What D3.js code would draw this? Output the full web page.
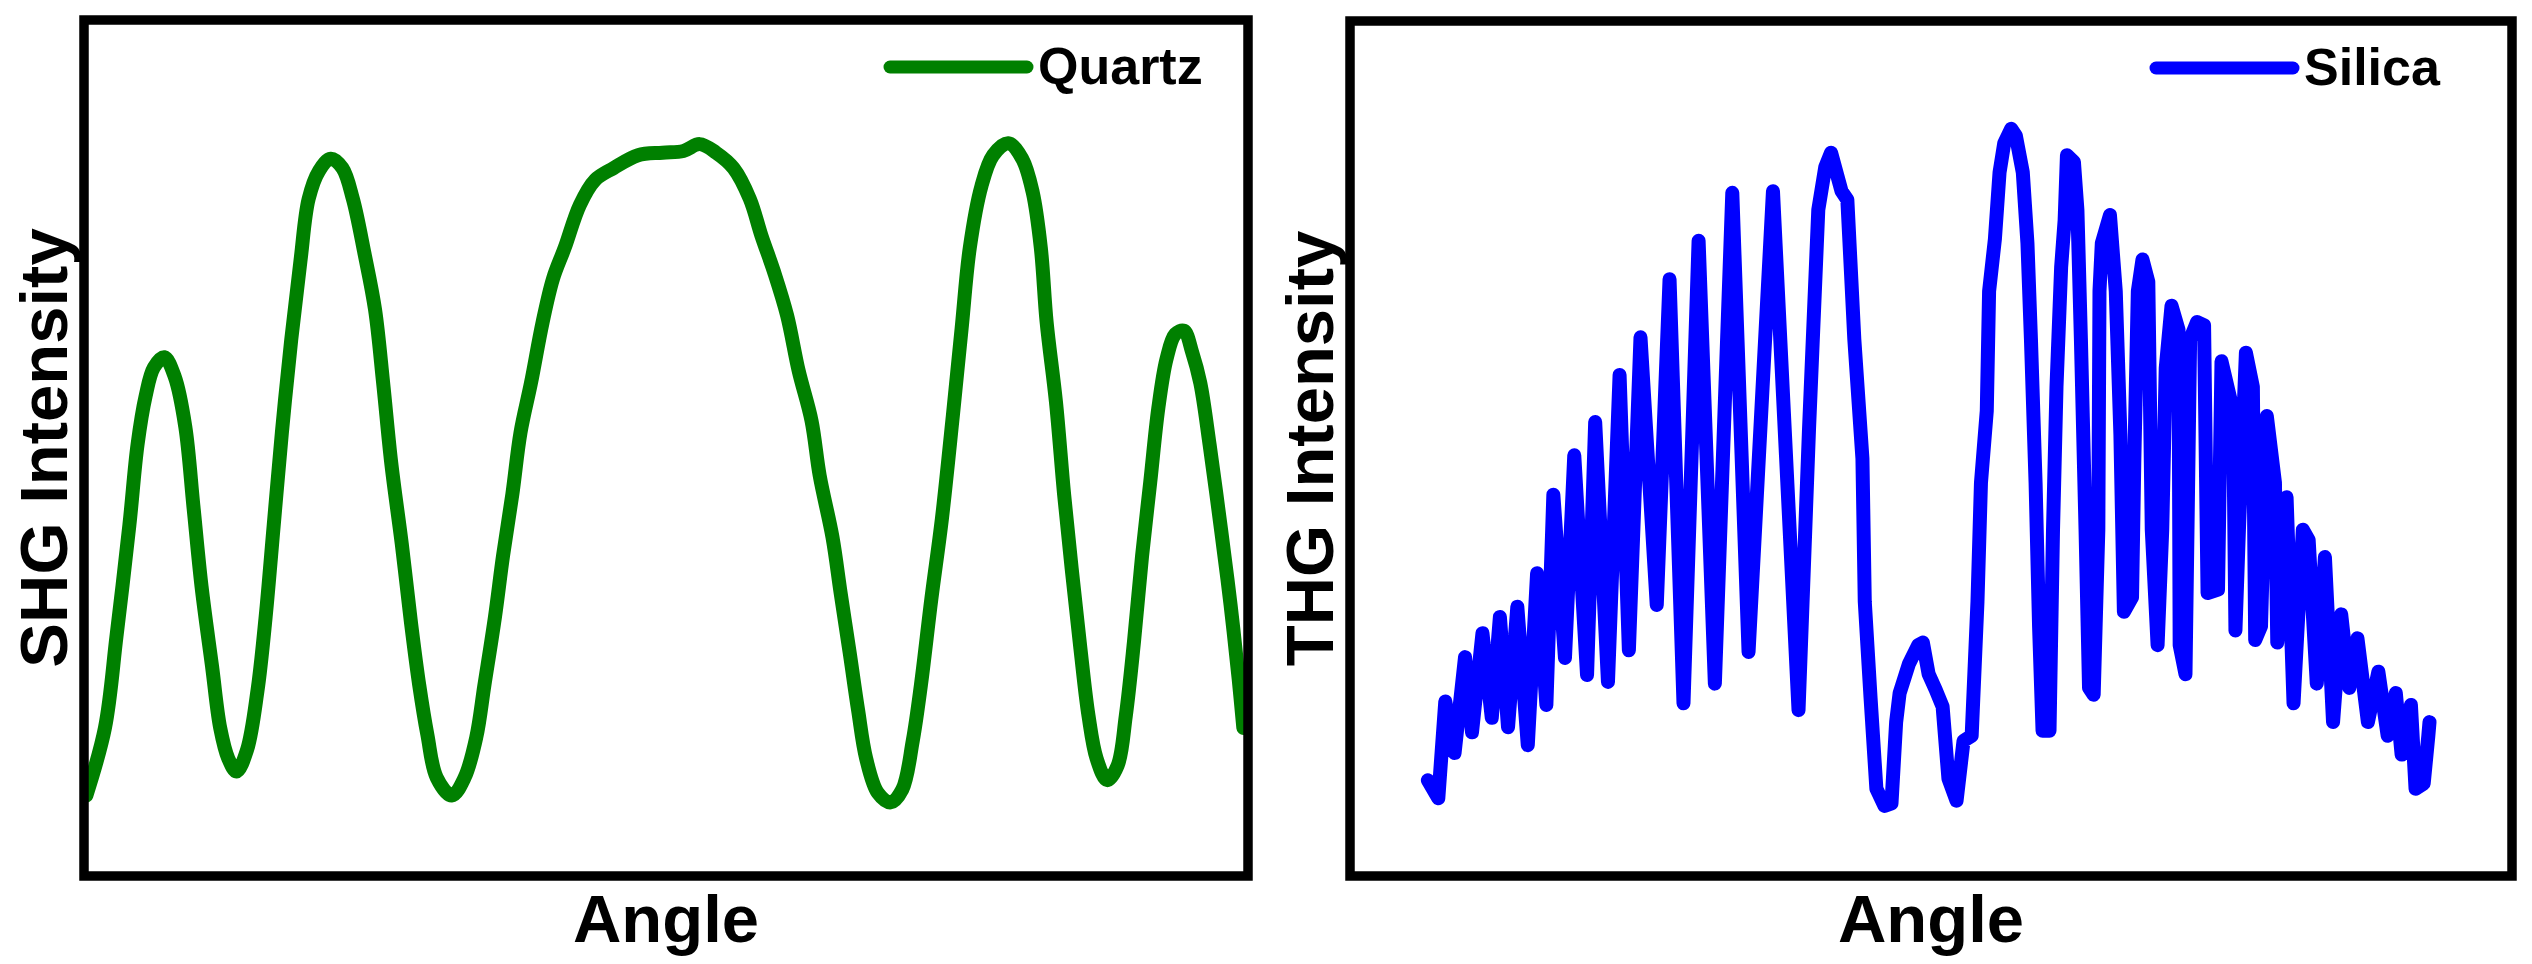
<!DOCTYPE html>
<html>
<head>
<meta charset="utf-8">
<script src="https://cdn.jsdelivr.net/npm/d3@7"></script>
<style>
  html, body { margin: 0; padding: 0; background: #fff; }
  svg { display: block; }
  text { font-family: "Liberation Sans", Arial, sans-serif; font-weight: bold; fill: #000; }
</style>
</head>
<body>
<svg id="chart" width="2532" height="964"></svg>
<script>
// ---------- DATA (normalized units: angle 0-100 across frame, intensity 0-100 up frame) ----------
const quartzAngle = [0.2,1.8,2.8,3.9,4.6,5.3,6.0,6.9,7.8,8.7,9.4,10.1,11.0,11.7,12.4,13.1,14.0,14.9,15.6,16.3,17.0,17.8,18.6,19.3,20.2,21.2,22.2,23.1,24.1,25.0,25.7,26.4,27.3,28.1,28.8,29.5,30.3,31.6,32.7,33.7,34.4,35.3,36.0,36.8,37.5,38.4,39.4,40.3,41.3,42.6,43.9,45.5,47.6,49.7,51.5,52.9,54.3,55.8,57.2,58.2,59.3,60.4,61.4,62.5,63.2,64.3,65.0,65.8,66.5,67.2,68.2,69.3,70.3,71.2,71.9,72.8,73.7,74.6,75.4,76.1,77.1,78.1,79.4,80.6,81.5,82.2,82.7,83.5,84.2,84.9,85.6,86.3,87.0,87.9,88.8,89.5,90.2,90.9,91.6,92.3,93.0,93.75,94.5,95.2,95.9,96.7,97.7,98.5,99.2,99.6];
const quartzIntensity = [9.4,17.3,28.1,41.0,50.4,56.1,59.4,60.6,58.3,52.5,43.2,33.8,24.5,17.3,13.7,12.2,14.7,21.6,30.2,41.0,51.8,62.6,71.9,79.1,82.4,83.8,82.7,79.1,72.7,66.2,57.6,48.2,38.8,29.5,22.3,16.5,11.5,9.4,11.5,16.2,22.3,30.2,37.4,44.6,51.8,57.6,64.7,69.8,73.4,78.4,81.3,82.7,84.2,84.5,84.7,85.5,84.5,82.7,79.1,74.8,70.5,65.5,59.0,53.2,46.8,39.6,33.1,25.9,19.4,13.7,9.7,8.6,10.1,15.8,22.3,32.4,41.7,53.2,64.0,73.4,80.6,84.2,85.6,83.8,79.9,73.4,64.7,55.4,44.6,35.3,26.6,18.7,13.7,11.2,12.9,18.7,27.3,37.4,46.0,54.7,60.4,63.3,63.7,61.2,57.6,50.4,40.3,31.7,23.0,17.3];

const silicaAngle = [6.7,7.6,8.2,9.0,9.9,10.5,11.4,12.2,12.9,13.6,14.4,15.3,16.1,16.9,17.5,18.5,19.3,20.4,21.1,22.2,23.2,24.0,25.0,26.4,27.5,28.7,30.0,31.4,32.9,34.3,36.4,38.6,39.5,40.3,40.9,41.4,42.3,42.8,43.4,44.1,44.3,44.8,45.3,46.0,46.6,47.0,47.3,48.1,48.9,49.3,49.8,50.4,51.0,51.5,52.2,52.8,53.5,54.0,54.3,54.8,55.0,55.5,55.9,56.3,56.9,57.3,57.9,58.3,58.6,59.0,59.3,59.6,60.2,60.5,60.8,61.2,61.5,61.7,62.3,62.6,62.9,63.3,63.6,64.0,64.4,64.5,64.7,65.4,65.9,66.3,66.6,67.3,67.5,67.8,68.2,68.7,69.0,69.5,69.9,70.2,70.7,71.3,71.4,71.9,72.3,72.9,73.5,73.8,74.7,75.0,76.0,76.2,76.5,77.1,77.7,77.9,78.4,78.9,79.6,79.8,80.6,81.2,82.0,82.5,83.2,83.9,84.6,85.3,86.0,86.7,87.6,88.5,89.3,90.0,90.5,91.3,91.7,92.4,92.8,92.9];
const silicaIntensity = [11.2,9.1,20.4,14.4,25.6,16.8,28.4,18.5,30.3,17.4,31.5,15.3,35.4,20.0,44.6,25.5,49.2,23.5,53.1,22.7,58.6,26.4,63.0,31.7,69.8,20.2,74.3,22.5,79.9,26.2,80.1,19.4,52.2,77.9,82.9,84.6,80.1,79.1,62.8,48.8,32.1,20.8,10.2,8.2,8.5,18.0,21.4,24.8,27.0,27.3,23.6,21.8,19.8,11.4,8.8,15.8,16.4,32.1,46.0,54.4,68.4,74.5,82.3,85.7,87.4,86.6,82.3,74.0,62.8,46.0,29.2,17.0,17.0,40.5,57.2,71.2,76.7,84.3,83.5,77.9,62.8,40.5,22.0,21.2,40.5,68.4,74.0,77.3,68.4,51.6,30.9,32.6,48.8,68.4,72.1,69.5,40.5,27.0,40.5,59.4,66.7,63.9,27.0,23.6,62.8,64.8,64.4,33.1,33.5,60.2,54.4,28.7,40.5,61.2,57.2,27.6,29.2,53.8,46.0,27.3,44.3,20.2,40.5,39.3,22.5,37.3,18.0,30.6,22.0,27.8,18.0,23.9,16.4,21.4,14.2,20.0,10.2,10.8,16.4,18.0];

const panelNames = ["Quartz", "Silica"];
const yLabels = ["SHG Intensity", "THG Intensity"];
const xLabel = "Angle";
const lineColors = ["#008000", "#0000ff"];

// ---------- LAYOUT ----------
const panels = [
  { x0: 84, x1: 1248, y0: 20, y1: 876, ax: quartzAngle, iy: quartzIntensity, curve: d3.curveCatmullRom.alpha(0.5) },
  { x0: 1350, x1: 2512, y0: 21, y1: 876, ax: silicaAngle, iy: silicaIntensity, curve: d3.curveLinear }
];

const svg = d3.select("#chart");

panels.forEach((p, i) => {
  const x = d3.scaleLinear().domain([0, 100]).range([p.x0, p.x1]);
  const y = d3.scaleLinear().domain([0, 100]).range([p.y1, p.y0]);
  const g = svg.append("g");

  const clipId = "clip" + i;
  svg.append("clipPath").attr("id", clipId)
    .append("rect").attr("x", p.x0).attr("y", p.y0)
    .attr("width", p.x1 - p.x0).attr("height", p.y1 - p.y0);

  const pts = p.ax.map((a, k) => [a, p.iy[k]]);
  const line = d3.line().x(d => x(d[0])).y(d => y(d[1])).curve(p.curve);

  g.append("path")
    .attr("d", line(pts))
    .attr("clip-path", `url(#${clipId})`)
    .attr("fill", "none")
    .attr("stroke", lineColors[i])
    .attr("stroke-width", 14)
    .attr("stroke-linejoin", "round")
    .attr("stroke-linecap", "round");

  // frame
  g.append("rect")
    .attr("x", p.x0).attr("y", p.y0)
    .attr("width", p.x1 - p.x0).attr("height", p.y1 - p.y0)
    .attr("fill", "none").attr("stroke", "#000").attr("stroke-width", 9.5);

  // legend
  const lx = p.x0 + 806;
  g.append("line")
    .attr("x1", lx).attr("x2", lx + 137)
    .attr("y1", p.y0 + 47).attr("y2", p.y0 + 47)
    .attr("stroke", lineColors[i]).attr("stroke-width", 13)
    .attr("stroke-linecap", "round");
  g.append("text")
    .attr("x", lx + 148).attr("y", p.y0 + 64)
    .attr("font-size", 52)
    .text(panelNames[i]);

  // x-axis label
  g.append("text")
    .attr("x", (p.x0 + p.x1) / 2).attr("y", 942)
    .attr("text-anchor", "middle")
    .attr("font-size", 67)
    .text(xLabel);

  // y-axis label
  g.append("text")
    .attr("transform", `translate(${p.x0 - 17},${(p.y0 + p.y1) / 2}) rotate(-90)`)
    .attr("text-anchor", "middle")
    .attr("font-size", 67)
    .text(yLabels[i]);
});
</script>
</body>
</html>
